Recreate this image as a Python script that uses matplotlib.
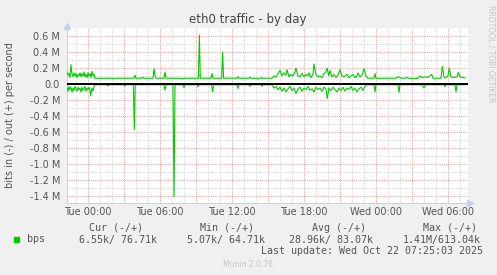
import matplotlib
matplotlib.use("Agg")
import matplotlib.pyplot as plt

W, H = 497, 275

# hours relative to Tue 00:00, traffic in Mbit/s
out_hours = [-1.75, -1.67, -1.58, -1.5, -1.42, -1.33, -1.25, -1.17, -1.08, -1.0,
             -0.92, -0.83, -0.75, -0.67, -0.58, -0.5, -0.42, -0.33, -0.25, -0.17,
             -0.08, 0.0, 0.08, 0.17, 0.25, 0.33, 0.42, 0.5, 0.58,
             2.0, 2.08, 2.17, 3.83, 3.92, 4.0, 4.5, 4.58, 4.67,
             5.42, 5.5, 5.58, 5.67, 6.33, 6.42, 6.5, 7.83, 7.92, 8.0,
             9.2, 9.28, 9.36, 10.25, 10.33, 10.42, 11.14, 11.22, 11.3,
             12.42, 12.5, 12.58, 13.42, 13.5, 13.58, 14.08, 14.17, 14.25, 14.42, 14.5, 14.58,
             15.33, 15.5, 15.67, 15.83, 16.0, 16.17, 16.33, 16.5, 16.58, 16.75,
             16.92, 17.08, 17.25, 17.33, 17.5, 17.67, 17.83, 18.0, 18.17, 18.33,
             18.42, 18.58, 18.75, 18.83, 19.0, 19.17, 19.33, 19.5, 19.67, 19.83,
             19.92, 20.08, 20.17, 20.33, 20.5, 20.67, 20.83, 21.0, 21.17, 21.33,
             21.5, 21.58, 21.75, 21.92, 22.08, 22.25, 22.42, 22.5, 22.67, 22.83,
             23.0, 23.17, 23.33, 23.83, 23.92, 24.0,
             25.67, 25.75, 25.92, 26.08, 26.42, 26.56, 26.67, 27.0, 27.08,
             27.5, 27.67, 27.83, 28.08, 28.33, 28.64, 28.75,
             29.42, 29.53, 29.67, 29.75, 30.0, 30.11, 30.25, 30.42, 30.75, 30.86, 31.0, 31.14, 31.42]
out_mbps = [0.15, 0.11, 0.13, 0.08, 0.24, 0.12, 0.09, 0.14, 0.1, 0.13,
            0.08, 0.12, 0.1, 0.14, 0.09, 0.13, 0.1, 0.15, 0.09, 0.12,
            0.08, 0.14, 0.1, 0.13, 0.08, 0.16, 0.1, 0.12, 0.072,
            0.072, 0.062, 0.072, 0.072, 0.11, 0.072, 0.072, 0.085, 0.072,
            0.072, 0.19, 0.11, 0.072, 0.072, 0.15, 0.072, 0.072, 0.062, 0.072,
            0.072, 0.61, 0.072, 0.072, 0.13, 0.072, 0.072, 0.40, 0.072,
            0.072, 0.09, 0.072, 0.072, 0.085, 0.072, 0.072, 0.06, 0.072, 0.072, 0.08, 0.072,
            0.072, 0.1, 0.085, 0.13, 0.17, 0.1, 0.14, 0.11, 0.18, 0.09,
            0.12, 0.1, 0.15, 0.2, 0.1, 0.09, 0.13, 0.09, 0.12, 0.1,
            0.14, 0.08, 0.12, 0.25, 0.12, 0.09, 0.1, 0.08, 0.13, 0.15,
            0.2, 0.1, 0.17, 0.09, 0.12, 0.08, 0.11, 0.18, 0.1, 0.09,
            0.11, 0.12, 0.08, 0.1, 0.12, 0.08, 0.1, 0.14, 0.09, 0.11,
            0.19, 0.1, 0.072, 0.072, 0.13, 0.072,
            0.072, 0.085, 0.09, 0.072, 0.072, 0.085, 0.072, 0.072, 0.065,
            0.072, 0.1, 0.08, 0.09, 0.08, 0.12, 0.072,
            0.072, 0.22, 0.09, 0.075, 0.1, 0.2, 0.09, 0.08, 0.09, 0.145, 0.09, 0.085, 0.075]

in_hours = [-1.75, -1.67, -1.58, -1.5, -1.42, -1.33, -1.25, -1.17, -1.08, -1.0,
            -0.92, -0.83, -0.75, -0.67, -0.58, -0.5, -0.42, -0.33, -0.25, -0.17,
            -0.08, 0.0, 0.08, 0.17, 0.22, 0.33, 0.42, 0.5, 0.58,
            1.58, 1.67, 1.75, 3.0, 3.08, 3.17, 3.78, 3.86, 3.94,
            6.33, 6.42, 6.5, 7.08, 7.17, 7.25, 7.92, 8.0, 8.08, 9.08, 9.17, 9.25,
            10.3, 10.39, 10.47, 12.42, 12.5, 12.58, 13.42, 13.5, 13.58, 14.42, 14.5, 14.58,
            15.33, 15.5, 15.67, 15.83, 16.0, 16.17, 16.33, 16.5, 16.67, 16.83,
            17.0, 17.17, 17.33, 17.5, 17.67, 17.83, 18.0, 18.17, 18.33, 18.5,
            18.67, 18.83, 19.0, 19.17, 19.33, 19.5, 19.67, 19.83, 19.94, 20.08,
            20.25, 20.42, 20.58, 20.75, 20.92, 21.08, 21.25, 21.42, 21.58, 21.75,
            21.92, 22.08, 22.25, 22.42, 22.58, 22.75, 22.92, 23.08, 23.25,
            23.83, 23.92, 24.0, 25.83, 25.92, 26.0,
            27.83, 28.0, 28.17, 29.67, 29.75, 29.83, 30.58, 30.67, 30.75, 31.42]
in_mbps = [0.05, 0.09, 0.03, 0.07, 0.04, 0.1, 0.05, 0.08, 0.03, 0.06,
           0.09, 0.04, 0.07, 0.05, 0.1, 0.04, 0.08, 0.06, 0.03, 0.09,
           0.05, 0.07, 0.04, 0.08, 0.15, 0.05, 0.09, 0.03, 0.01,
           0.01, 0.025, 0.01, 0.01, 0.025, 0.01, 0.01, 0.57, 0.01,
           0.01, 0.075, 0.01, 0.01, 1.41, 0.01, 0.01, 0.045, 0.01, 0.01, 0.035, 0.01,
           0.01, 0.096, 0.01, 0.01, 0.055, 0.01, 0.01, 0.03, 0.01, 0.01, 0.03, 0.01,
           0.01, 0.05, 0.03, 0.07, 0.04, 0.09, 0.05, 0.1, 0.06, 0.03,
           0.08, 0.05, 0.12, 0.06, 0.04, 0.09, 0.05, 0.07, 0.03, 0.08,
           0.06, 0.1, 0.04, 0.07, 0.05, 0.09, 0.04, 0.06, 0.18, 0.05,
           0.08, 0.04, 0.07, 0.1, 0.05, 0.08, 0.04, 0.09, 0.05, 0.07,
           0.03, 0.08, 0.05, 0.1, 0.06, 0.04, 0.08, 0.03, 0.01,
           0.01, 0.1, 0.01, 0.01, 0.105, 0.01,
           0.01, 0.05, 0.01, 0.01, 0.035, 0.01, 0.01, 0.1, 0.01, 0.01]

x_ticks = [0, 6, 12, 18, 24, 30]
x_labels = ["Tue 00:00", "Tue 06:00", "Tue 12:00", "Tue 18:00", "Wed 00:00", "Wed 06:00"]
y_ticks = [0.6, 0.4, 0.2, 0.0, -0.2, -0.4, -0.6, -0.8, -1.0, -1.2, -1.4]
y_labels = ["0.6 M", "0.4 M", "0.2 M", "0.0", "-0.2 M", "-0.4 M", "-0.6 M",
            "-0.8 M", "-1.0 M", "-1.2 M", "-1.4 M"]

legend_heads = ["Cur (-/+)", "Min (-/+)", "Avg (-/+)", "Max (-/+)"]
legend_vals = ["6.55k/ 76.71k", "5.07k/ 64.71k", "28.96k/ 83.07k", "1.41M/613.04k"]


def px(x, y):
    return x / W, 1 - y / H


fig = plt.figure(figsize=(W / 100, H / 100), dpi=100, facecolor="#f0f0f0")
ax = fig.add_axes([67 / W, 1 - 203 / H, 401 / W, 175 / H])
ax.set_facecolor("white")
ax.set_xlim(-1.75, 31.67)
ax.set_ylim(-1.4875, 0.7)

# grid: grey every hour / 0.1 M, red every 3 hours / 0.2 M
dots = (0, (1.1, 1.1))
for h in range(-1, 32):
    c = "#e9a3a3" if h % 3 == 0 else "#d6d6d6"
    ax.axvline(h, color=c, lw=0.7, ls=dots, zorder=1)
for k in range(-14, 7):
    c = "#e9a3a3" if k % 2 == 0 else "#d6d6d6"
    ax.axhline(k / 10, color=c, lw=0.7, ls=dots, zorder=1)

ax.plot(out_hours, out_mbps, color="#00cc00", lw=0.8, zorder=3)
ax.plot(in_hours, [-v for v in in_mbps], color="#00cc00", lw=0.8, zorder=3)
ax.axhline(0, color="black", lw=1.4, zorder=4)

for s in ["top", "right"]:
    ax.spines[s].set_visible(False)
for s in ["left", "bottom"]:
    ax.spines[s].set_color("#c8d0f0")
    ax.spines[s].set_linewidth(0.8)
ax.plot([0], [1.01], marker="^", ms=4, color="#c8d0f0", transform=ax.transAxes, clip_on=False)
ax.plot([1.005], [0], marker=">", ms=4, color="#c8d0f0", transform=ax.transAxes, clip_on=False)

ax.set_xticks(x_ticks)
ax.set_xticklabels(x_labels)
ax.set_yticks(y_ticks)
ax.set_yticklabels(y_labels)
ax.tick_params(length=0, labelsize=7, colors="#555555")
ax.tick_params(axis="y", pad=5)
ax.tick_params(axis="x", pad=3)

fig.text(*px(248, 19), "eth0 traffic - by day", ha="center", va="center", fontsize=8.5, color="#444444")
fig.text(*px(10, 115), "bits in (-) / out (+) per second", rotation=90, ha="center", va="center",
         fontsize=7, color="#555555")
fig.text(*px(491, 5), "RRDTOOL / TOBI OETIKER", rotation=270, ha="center", va="top",
         fontsize=5.5, color="#c4c4c4")

mono = "DejaVu Sans Mono"
head_x = [89, 200, 311.7, 422.7]
val_x = [78.7, 186.7, 289, 403]
for hx, t in zip(head_x, legend_heads):
    fig.text(*px(hx, 228), t, ha="left", va="center", family=mono, fontsize=7.2, color="#555555")
for vx, t in zip(val_x, legend_vals):
    fig.text(*px(vx, 239.5), t, ha="left", va="center", family=mono, fontsize=7.2, color="#555555")
fig.patches.append(plt.Rectangle(px(14, 242), 5 / W, 5 / H, color="#00cc00", transform=fig.transFigure))
fig.text(*px(27, 239.5), "bps", ha="left", va="center", family=mono, fontsize=7.2, color="#555555")
fig.text(*px(483, 251), "Last update: Wed Oct 22 07:25:03 2025", ha="right", va="center",
         family=mono, fontsize=7.2, color="#555555")
fig.text(*px(248, 264.5), "Munin 2.0.76", ha="center", va="center", fontsize=5.5, color="#c4c4c4")

fig.savefig("out.png", dpi=100, facecolor=fig.get_facecolor())
